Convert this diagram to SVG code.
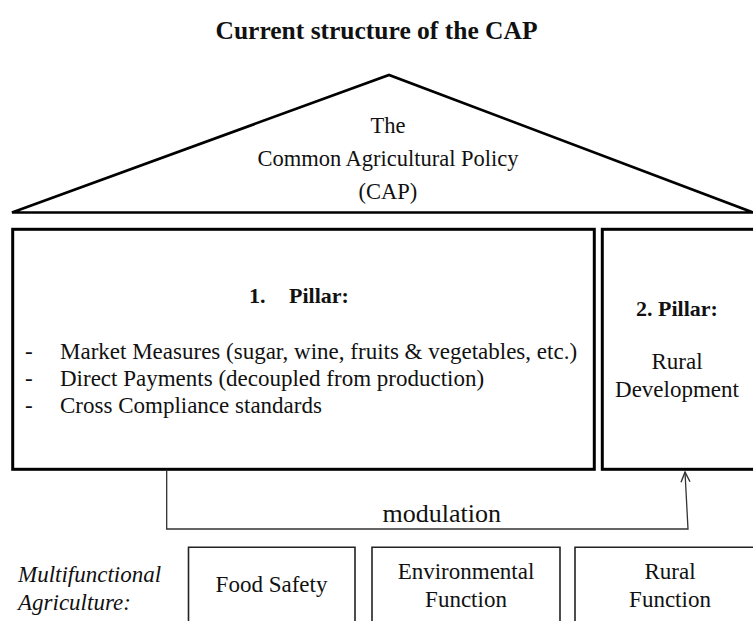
<svg xmlns="http://www.w3.org/2000/svg" width="753" height="621" viewBox="0 0 753 621" font-family="Liberation Serif, Times New Roman, serif">
  <style>
    text { fill: #111; }
    .title { font-size: 25.5px; font-weight: bold; text-anchor: middle; }
    .roof-label { font-size: 22.5px; text-anchor: middle; }
    .heading { font-size: 22px; font-weight: bold; }
    .item { font-size: 23px; }
    .center { text-anchor: middle; }
    .italic { font-style: italic; font-size: 23px; }
    .roof { fill: none; stroke: #000; stroke-width: 2.6; stroke-linejoin: miter; }
    .pillar { fill: none; stroke: #000; stroke-width: 3; }
    .function { fill: none; stroke: #222; stroke-width: 1.6; }
    .flow { fill: none; stroke: #333; stroke-width: 1.3; }
  </style>
  <defs>
    <marker id="open-arrow" viewBox="0 0 12 12" refX="11" refY="6" markerWidth="12" markerHeight="12" markerUnits="userSpaceOnUse" orient="auto">
      <path d="M1,1.5 L11,6 L1,10.5" fill="none" stroke="#333" stroke-width="1.4"/>
    </marker>
  </defs>

  <rect width="753" height="621" fill="#fff"/>

  <text class="title" x="376.5" y="39">Current structure of the CAP</text>

  <!-- roof -->
  <g id="roof">
    <polygon class="roof" points="12,212.5 389,75 753,212.5"/>
    <text class="roof-label" x="388" y="133">The</text>
    <text class="roof-label" x="388" y="166">Common Agricultural Policy</text>
    <text class="roof-label" x="388" y="199">(CAP)</text>
  </g>

  <!-- first pillar -->
  <g id="pillar-1">
    <rect class="pillar" x="12.7" y="229.3" width="581.6" height="240"/>
    <text class="heading" x="249" y="303">1.<tspan x="289">Pillar:</tspan></text>
    <text class="item" x="25" y="359">-</text>
    <text class="item" x="60" y="359">Market Measures (sugar, wine, fruits &amp; vegetables, etc.)</text>
    <text class="item" x="25" y="386">-</text>
    <text class="item" x="60" y="386">Direct Payments (decoupled from production)</text>
    <text class="item" x="25" y="413">-</text>
    <text class="item" x="60" y="413">Cross Compliance standards</text>
  </g>

  <!-- second pillar -->
  <g id="pillar-2">
    <rect class="pillar" x="602.3" y="229.3" width="160" height="240"/>
    <text class="heading center" x="677" y="316">2. Pillar:</text>
    <text class="item center" x="677" y="369">Rural</text>
    <text class="item center" x="677" y="397">Development</text>
  </g>

  <!-- connectors -->
  <g id="connectors">
    <path class="flow" d="M166.7,470.8 V529 H688 L685,472" marker-end="url(#open-arrow)"/>
    <text class="item center" x="441.7" y="522" style="font-size:26px">modulation</text>
  </g>

  <!-- functions of agriculture -->
  <g id="label-multifunctional">
    <text class="italic" x="18" y="582">Multifunctional</text>
    <text class="italic" x="18" y="610">Agriculture:</text>
  </g>
  <g id="food-safety">
    <path class="function" d="M188.5,625 V547.3 H355 V625"/>
    <text class="item center" x="271.5" y="592">Food Safety</text>
  </g>
  <g id="environmental-function">
    <path class="function" d="M372,625 V547.3 H560 V625"/>
    <text class="item center" x="466" y="579">Environmental</text>
    <text class="item center" x="466" y="607">Function</text>
  </g>
  <g id="rural-function">
    <path class="function" d="M575,625 V547.3 H760"/>
    <text class="item center" x="670" y="579">Rural</text>
    <text class="item center" x="670" y="607">Function</text>
  </g>
</svg>
